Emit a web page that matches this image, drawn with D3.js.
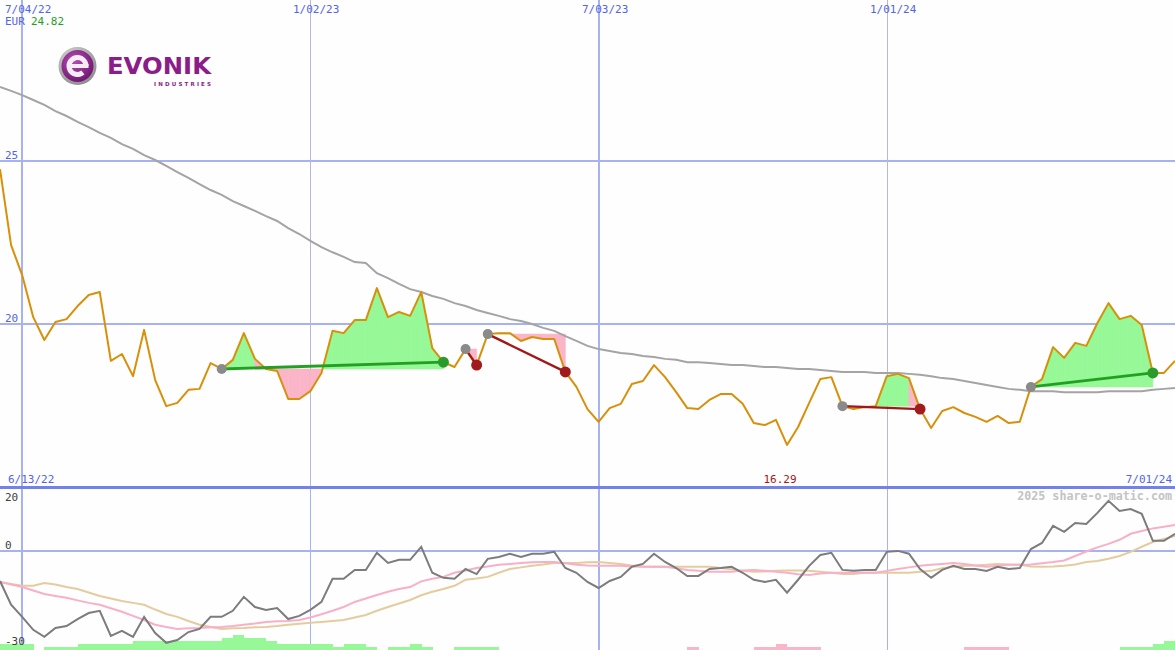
<!DOCTYPE html>
<html><head><meta charset="utf-8">
<script src="https://cdn.jsdelivr.net/npm/d3@7/dist/d3.min.js"></script>
<style>html,body{margin:0;padding:0;background:#fdfefd;}svg{display:block;}</style>
</head><body>
<svg id="c" width="1175" height="650"></svg>
<script>
// ---------- DATA ----------
const startDate = "2022-06-20";          // first weekly point
const endDate = "2024-07-01";            // last weekly point
const price = [
24.75,22.42,21.50,20.21,19.51,20.06,20.15,20.55,20.89,20.98,
18.87,19.08,18.40,19.82,18.28,17.48,17.58,17.98,18.01,18.80,
18.62,18.90,19.72,18.93,18.62,18.56,17.70,17.70,17.94,18.50,
19.79,19.72,20.12,20.12,21.10,20.21,20.37,20.25,20.98,19.26,
18.83,18.68,19.23,18.74,19.69,19.72,19.72,19.48,19.60,19.54,
19.54,18.53,18.07,17.39,17.00,17.42,17.55,18.16,18.25,18.74,
18.37,17.91,17.42,17.39,17.67,17.85,17.85,17.55,16.96,16.90,
17.06,16.29,16.84,17.58,18.31,18.37,17.48,17.39,17.45,17.48,
18.40,18.47,18.34,17.39,16.81,17.33,17.45,17.27,17.15,17.00,
17.18,16.96,17.00,18.07,18.31,19.29,18.96,19.42,19.33,20.03,
20.64,20.15,20.25,19.97,18.50,18.50,18.87];
const ma200 = [
27.27,27.15,27.02,26.87,26.72,26.53,26.38,26.20,26.04,25.86,
25.71,25.52,25.37,25.18,25.03,24.85,24.66,24.48,24.29,24.11,
23.96,23.77,23.62,23.47,23.31,23.16,22.94,22.76,22.55,22.36,
22.20,22.06,21.90,21.87,21.56,21.41,21.23,21.07,20.98,20.86,
20.77,20.64,20.55,20.43,20.34,20.25,20.15,20.09,20.00,19.88,
19.79,19.63,19.48,19.33,19.23,19.17,19.11,19.08,19.02,18.99,
18.93,18.90,18.83,18.83,18.80,18.77,18.74,18.74,18.71,18.68,
18.68,18.65,18.62,18.62,18.59,18.56,18.53,18.53,18.53,18.50,
18.50,18.50,18.47,18.44,18.40,18.34,18.31,18.25,18.19,18.13,
18.07,18.01,17.98,17.94,17.94,17.94,17.91,17.91,17.91,17.91,
17.94,17.94,17.94,17.94,17.98,18.01,18.04];
// trades: index of entry and exit week
const tradeEntry = [20, 42, 44, 76, 93];
const tradeExit  = [40, 43, 51, 83, 104];
// lower indicator panel
const momentum = [
-9.5,-17.0,-20.8,-24.9,-27.1,-24.3,-23.7,-21.5,-19.6,-18.9,
-26.8,-25.2,-27.1,-20.8,-25.9,-29.0,-28.1,-25.6,-24.6,-20.8,
-20.8,-18.9,-14.5,-17.7,-18.6,-18.0,-21.5,-20.5,-18.6,-16.1,
-8.8,-8.8,-6.0,-6.0,-0.6,-3.8,-2.8,-2.8,1.3,-6.9,
-8.5,-8.8,-5.7,-7.3,-2.5,-1.9,-0.9,-1.9,-0.9,-0.9,
-0.3,-5.4,-6.9,-9.8,-11.7,-9.5,-8.2,-5.0,-4.1,-0.9,
-3.5,-5.4,-7.9,-7.9,-5.7,-5.4,-5.0,-6.9,-9.1,-9.8,
-9.1,-13.2,-9.1,-4.7,-1.3,-0.6,-6.0,-6.3,-6.0,-6.0,
-0.3,0.0,-0.9,-5.7,-8.5,-6.0,-4.7,-5.7,-5.7,-6.3,
-5.0,-5.7,-5.4,0.6,2.5,7.9,6.0,8.8,8.5,12.0,
15.8,12.6,13.2,11.7,3.2,3.2,5.4];
const signalFast = [
-9.8,-10.6,-11.4,-12.5,-13.6,-14.2,-14.8,-15.6,-16.4,-17.0,
-18.1,-19.2,-20.5,-21.8,-23.3,-24.0,-24.6,-24.4,-24.3,-24.1,
-24.0,-23.7,-23.3,-22.9,-22.4,-22.2,-22.1,-21.8,-21.0,-20.0,
-18.9,-17.7,-16.1,-15.0,-13.9,-12.9,-12.0,-11.4,-9.6,-8.8,
-8.2,-6.9,-6.2,-5.4,-4.9,-4.4,-4.1,-3.8,-3.6,-3.5,
-3.5,-3.9,-4.4,-4.6,-4.7,-4.7,-4.7,-4.9,-5.0,-5.0,
-5.0,-5.5,-6.0,-6.3,-6.6,-6.6,-6.6,-6.2,-6.0,-6.3,
-6.6,-6.9,-7.4,-7.6,-7.1,-6.9,-6.9,-6.9,-6.9,-6.9,
-6.3,-5.7,-5.2,-4.7,-4.4,-4.1,-3.8,-4.1,-4.6,-5.0,
-4.7,-4.4,-4.4,-4.3,-3.9,-3.5,-3.0,-1.6,-0.2,1.1,
2.2,3.5,5.4,6.3,7.1,7.6,8.2];
const signalSlow = [
-9.8,-10.4,-11.0,-11.0,-10.1,-10.6,-11.4,-12.0,-13.1,-14.2,
-15.0,-15.8,-16.4,-17.0,-18.5,-19.9,-20.8,-22.1,-23.3,-24.0,
-24.6,-24.4,-24.3,-24.1,-24.0,-23.7,-23.3,-23.0,-22.7,-22.4,
-22.1,-21.8,-21.0,-20.2,-18.9,-17.7,-16.6,-15.5,-14.0,-12.9,
-12.0,-11.0,-9.1,-8.7,-8.2,-6.9,-5.7,-5.2,-4.7,-4.3,
-3.8,-3.8,-3.8,-3.6,-3.5,-3.8,-4.1,-4.6,-4.9,-5.0,
-5.0,-5.0,-5.0,-5.0,-5.0,-5.4,-5.8,-6.3,-6.6,-6.5,
-6.3,-6.2,-6.2,-6.3,-6.6,-6.9,-7.3,-7.3,-6.9,-6.9,
-6.9,-6.9,-6.9,-6.6,-6.3,-5.5,-5.0,-4.7,-4.6,-4.4,
-4.1,-4.3,-4.4,-4.9,-5.0,-4.9,-4.7,-4.3,-3.5,-3.2,
-2.5,-1.6,-0.3,1.3,2.8,3.8,4.7];
const bars = [
2,2,2,0,1,1,1,2,2,2,
2,2,3,3,3,3,3,3,3,3,
4,5,4,4,3,2,2,2,2,2,
1,2,2,1,0,1,1,2,1,0,
0,1,1,1,1,0,0,0,0,0,
0,0,0,0,0,0,0,0,0,0,
0,0,-1,0,0,0,0,0,-1,-1,
-2,-1,-1,-1,0,0,0,0,0,0,
0,0,0,0,0,0,0,-1,-1,-1,
-1,0,0,0,0,0,0,0,0,0,
0,1,1,1,2,3,3];
const gridDates = ["2022-07-04","2023-01-02","2023-07-03","2024-01-01"];
const gridLabels = ["7/04/22","1/02/23","7/03/23","1/01/24"];
const gridMajor = [true,false,true,false];
const priceTicks = [25, 20];
const lowerTicks = [20, 0, -30];
const currency = "EUR", firstPrice = "24.82";
const firstLabel = "6/13/22", lastLabel = "7/01/24";
const credit = "2025 share-o-matic.com";

// ---------- SETUP ----------
const parse = d3.timeParse("%Y-%m-%d");
const W = 1175, H = 650;
const t0 = parse(startDate);
const dates = price.map((_, i) => d3.timeDay.offset(t0, 7 * i));
const x = d3.scaleTime().domain([t0, parse(endDate)]).range([0, W]);
const yM = d3.scaleLinear().domain([15, 30]).range([487, -2]);
const yL = d3.scaleLinear().domain([-30, 20]).range([646, 487.5]);
const yB = d3.scaleLinear().domain([0, 5]).range([650, 635]);

const svg = d3.select("#c");
svg.append("rect").attr("width", W).attr("height", H).attr("fill", "#fdfefd");

const GRID = "#a6b2f2", MONO = "'DejaVu Sans Mono', monospace";
const G_FILL = "#96f896", P_FILL = "#fab6c8";

// horizontal grid lines
priceTicks.forEach(v => {
  svg.append("line").attr("x1", 0).attr("x2", W).attr("y1", Math.round(yM(v))).attr("y2", Math.round(yM(v)))
    .attr("stroke", GRID).attr("stroke-width", 2).attr("shape-rendering", "crispEdges");
  svg.append("text").attr("x", 5).attr("y", yM(v) - 2).text(v)
    .attr("font-family", MONO).attr("font-size", 11).attr("fill", "#5464e8");
});
svg.append("line").attr("x1", 0).attr("x2", W).attr("y1", yL(0)).attr("y2", yL(0))
  .attr("stroke", GRID).attr("stroke-width", 2).attr("shape-rendering", "crispEdges");

// vertical grid lines
gridDates.forEach((d, k) => {
  const xx = Math.round(x(parse(d)));
  svg.append("line").attr("x1", xx).attr("x2", xx).attr("y1", 0).attr("y2", 487)
    .attr("stroke", gridMajor[k] ? GRID : "#b4b8dc").attr("stroke-width", gridMajor[k] ? 2 : 1)
    .attr("shape-rendering", "crispEdges");
  svg.append("line").attr("x1", xx).attr("x2", xx).attr("y1", 487).attr("y2", H)
    .attr("stroke", GRID).attr("stroke-width", gridMajor[k] ? 2 : 1)
    .attr("shape-rendering", "crispEdges");
  svg.append("text").attr("x", xx - 17).attr("y", 13).text(gridLabels[k])
    .attr("font-family", MONO).attr("font-size", 11).attr("fill", "#5464e8");
});

// separator
svg.append("line").attr("x1", 0).attr("x2", W).attr("y1", 487).attr("y2", 487)
  .attr("stroke", "#7282ec").attr("stroke-width", 3).attr("shape-rendering", "crispEdges");

// ---------- LOGO ----------
const defs = svg.append("defs");
const gr = defs.append("radialGradient").attr("id", "ring").attr("cx", "40%").attr("cy", "35%").attr("r", "70%");
gr.append("stop").attr("offset", "0%").attr("stop-color", "#e8e8e8");
gr.append("stop").attr("offset", "100%").attr("stop-color", "#8a8a8a");
const gp = defs.append("radialGradient").attr("id", "purp").attr("cx", "40%").attr("cy", "35%").attr("r", "70%");
gp.append("stop").attr("offset", "0%").attr("stop-color", "#b54fb2");
gp.append("stop").attr("offset", "100%").attr("stop-color", "#6e1470");
const logo = svg.append("g").attr("transform", "translate(77.5,66)");
logo.append("circle").attr("r", 19).attr("fill", "url(#ring)");
logo.append("circle").attr("r", 16).attr("fill", "url(#purp)");
logo.append("path").attr("d", d3.arc().innerRadius(6).outerRadius(11)
  .startAngle(0.78 * Math.PI).endAngle(2.5 * Math.PI)()).attr("fill", "#f4eef4");
logo.append("rect").attr("x", -8).attr("y", -2).attr("width", 19).attr("height", 4).attr("fill", "#f4eef4");
svg.append("text").attr("x", 107).attr("y", 74).text("EVONIK")
  .attr("font-family", "'DejaVu Sans', sans-serif").attr("font-weight", "bold").attr("font-size", 23)
  .attr("textLength", 104).attr("lengthAdjust", "spacingAndGlyphs").attr("fill", "#8b1d8a");
svg.append("text").attr("x", 154).attr("y", 86).text("INDUSTRIES")
  .attr("font-family", "'DejaVu Sans', sans-serif").attr("font-weight", "bold").attr("font-size", 5.5)
  .attr("textLength", 57).attr("lengthAdjust", "spacing").attr("fill", "#8b1d8a");

// ---------- TRADE FILLS ----------
const segArea = d3.area().x(d => x(d.date)).y1(d => yM(d.v));
tradeEntry.forEach((e, k) => {
  const base = price[e], ex = tradeExit[k];
  for (let i = e; i < ex; i++) {
    const seg = [{date: dates[i], v: price[i]}, {date: dates[i + 1], v: price[i + 1]}];
    const col = price[i + 1] > base ? G_FILL : P_FILL;
    svg.append("path").attr("d", segArea.y0(yM(base))(seg)).attr("fill", col)
      .attr("stroke", col).attr("stroke-width", 0.6);
  }
});

// ---------- MAIN LINES ----------
const lineM = d3.line().x((d, i) => x(dates[i])).y(d => yM(d));
svg.append("path").attr("d", lineM(ma200)).attr("fill", "none").attr("stroke", "#a4a4a4").attr("stroke-width", 2);
svg.append("path").attr("d", lineM(price)).attr("fill", "none").attr("stroke", "#d8900a").attr("stroke-width", 2)
  .attr("stroke-linejoin", "round");

// trade lines & dots
tradeEntry.forEach((e, k) => {
  const ex = tradeExit[k];
  const win = price[ex] > price[e];
  svg.append("line").attr("x1", x(dates[e])).attr("y1", yM(price[e]))
    .attr("x2", x(dates[ex])).attr("y2", yM(price[ex]))
    .attr("stroke", win ? "#22a022" : "#a01818").attr("stroke-width", win ? 2.8 : 2.4);
  svg.append("circle").attr("cx", x(dates[e])).attr("cy", yM(price[e])).attr("r", 5).attr("fill", "#8a8a8a");
  svg.append("circle").attr("cx", x(dates[ex])).attr("cy", yM(price[ex])).attr("r", 5.5)
    .attr("fill", win ? "#2a9a2a" : "#a01c1c");
});

// ---------- TEXT top ----------
svg.append("text").attr("x", 5).attr("y", 25).text(currency)
  .attr("font-family", MONO).attr("font-size", 11).attr("fill", "#5464e8");
svg.append("text").attr("x", 31).attr("y", 25).text(firstPrice)
  .attr("font-family", MONO).attr("font-size", 11).attr("fill", "#22a022");

// ---------- LOWER PANEL ----------
svg.selectAll(".bar").data(bars).enter().append("rect")
  .attr("x", (d, i) => x(dates[i]))
  .attr("width", (d, i) => x(d3.timeDay.offset(dates[i], 7)) - x(dates[i]) + 0.3)
  .attr("y", d => yB(Math.abs(d)))
  .attr("height", d => yB(0) - yB(Math.abs(d)))
  .attr("fill", d => d > 0 ? G_FILL : P_FILL)
  .attr("shape-rendering", "crispEdges");

const lineL = d3.line().x((d, i) => x(dates[i])).y(d => yL(d));
svg.append("path").attr("d", lineL(signalSlow)).attr("fill", "none").attr("stroke", "#e4cc9e").attr("stroke-width", 2);
svg.append("path").attr("d", lineL(signalFast)).attr("fill", "none").attr("stroke", "#f8b0c8").attr("stroke-width", 2);
svg.append("path").attr("d", lineL(momentum)).attr("fill", "none").attr("stroke", "#7c7c7c").attr("stroke-width", 2);

const lowOff = {"20": 13, "0": -2, "-30": -1};
lowerTicks.forEach(v => {
  svg.append("text").attr("x", 5).attr("y", yL(v) + lowOff[String(v)]).text(String(v))
    .attr("font-family", MONO).attr("font-size", 11).attr("fill", "#404040");
});

svg.append("text").attr("x", 8).attr("y", 483).text(firstLabel)
  .attr("font-family", MONO).attr("font-size", 11).attr("fill", "#5464e8");
svg.append("text").attr("x", 1172).attr("y", 483).attr("text-anchor", "end").text(lastLabel)
  .attr("font-family", MONO).attr("font-size", 11).attr("fill", "#5464e8");
const minI = d3.minIndex(price);
svg.append("text").attr("x", x(dates[minI]) - 7).attr("y", 483).attr("text-anchor", "middle")
  .text(d3.format(".2f")(price[minI]))
  .attr("font-family", MONO).attr("font-size", 11).attr("fill", "#a01818");
svg.append("text").attr("x", 1172).attr("y", 500).attr("text-anchor", "end").text(credit)
  .attr("font-family", MONO).attr("font-size", 11.7).attr("font-weight", "bold").attr("fill", "#c4c4c4");
</script>
</body></html>
